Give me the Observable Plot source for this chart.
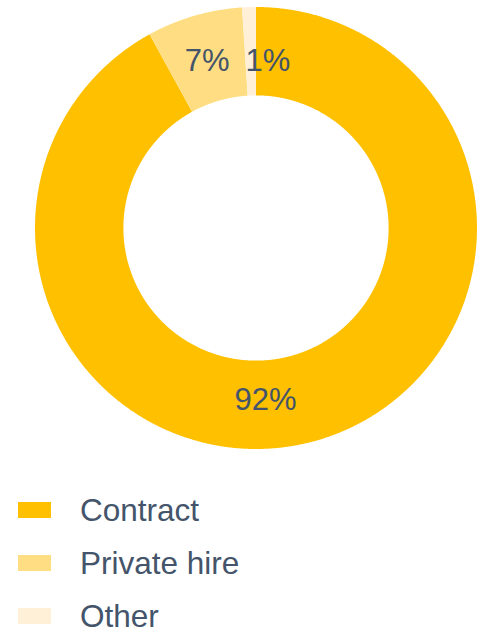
<!DOCTYPE html>
<html>
<head>
<meta charset="utf-8">
<script src="https://cdn.jsdelivr.net/npm/d3@7"></script>
<script src="https://cdn.jsdelivr.net/npm/@observablehq/plot@0.6"></script>
<style>
  html, body { margin: 0; padding: 0; background: #fff; }
  body { width: 485px; font-family: "Liberation Sans", Arial, sans-serif; }
  #chart { height: 460px; }
  #legend { padding-top: 35px; }
  .row { display: flex; align-items: center; height: 30px; margin-bottom: 23px; }
  .row:last-child { margin-bottom: 0; }
  .sw { width: 33px; height: 16px; margin-left: 18px; margin-right: 29px; flex: none; }
  .lab { font-size: 31.5px; line-height: 30px; color: #44546A; white-space: nowrap; }
</style>
</head>
<body>
<div id="chart"></div>
<div id="legend"></div>
<script>
// ---- data ----
const categories = ["Contract", "Private hire", "Other"];
const shares = [92, 7, 1];
const labels = ["92%", "7%", "1%"];
const colors = ["#FFC000", "#FFDE83", "#FFF0D7"];

// ---- geometry derived from data ----
const total = d3.sum(shares);
const innerR = 0.6, outerR = 1;
const slices = [];
let acc = 0;
categories.forEach((c, i) => {
  const a0 = acc / total * 2 * Math.PI;
  acc += shares[i];
  const a1 = acc / total * 2 * Math.PI;
  slices.push({cat: c, a0, a1, label: labels[i]});
});
const ringPts = [];
for (const s of slices) {
  const n = Math.max(2, Math.ceil((s.a1 - s.a0) / 0.004));
  for (let k = 0; k <= n; k++) {
    const t = s.a0 + (s.a1 - s.a0) * k / n;
    ringPts.push({
      cat: s.cat,
      x1: innerR * Math.sin(t), y1: innerR * Math.cos(t),
      x2: outerR * Math.sin(t), y2: outerR * Math.cos(t)
    });
  }
}
const midR = (innerR + outerR) / 2;
const labelPts = slices.map(s => {
  const m = (s.a0 + s.a1) / 2;
  return {cat: s.cat, label: s.label, x: midR * Math.sin(m), y: midR * Math.cos(m)};
});
const textStyle = {text: "label", x: "x", y: "y", fontSize: 31, fill: "#44546A"};

const chart = Plot.plot({
  width: 485,
  height: 460,
  marginLeft: 35,
  marginRight: 8,
  marginTop: 7,
  marginBottom: 11,
  style: {fontFamily: "'Liberation Sans', Arial, sans-serif", background: "#fff"},
  x: {domain: [-1, 1], axis: null},
  y: {domain: [-1, 1], axis: null},
  color: {domain: categories, range: colors},
  marks: [
    Plot.area(ringPts, {x1: "x1", y1: "y1", x2: "x2", y2: "y2", z: "cat", fill: "cat", curve: "linear"}),
    Plot.text(labelPts.filter(d => d.cat === "Contract"), {...textStyle, dx: -35, dy: 0}),
    Plot.text(labelPts.filter(d => d.cat === "Private hire"), {...textStyle, dx: 0, dy: 2}),
    Plot.text(labelPts.filter(d => d.cat === "Other"), {...textStyle, dx: 17, dy: 9})
  ]
});
document.getElementById("chart").appendChild(chart);

const legend = document.getElementById("legend");
categories.forEach((c, i) => {
  const row = document.createElement("div");
  row.className = "row";
  const sw = document.createElement("div");
  sw.className = "sw";
  sw.style.background = colors[i];
  const lab = document.createElement("span");
  lab.className = "lab";
  lab.textContent = c;
  row.appendChild(sw);
  row.appendChild(lab);
  legend.appendChild(row);
});
</script>
</body>
</html>
